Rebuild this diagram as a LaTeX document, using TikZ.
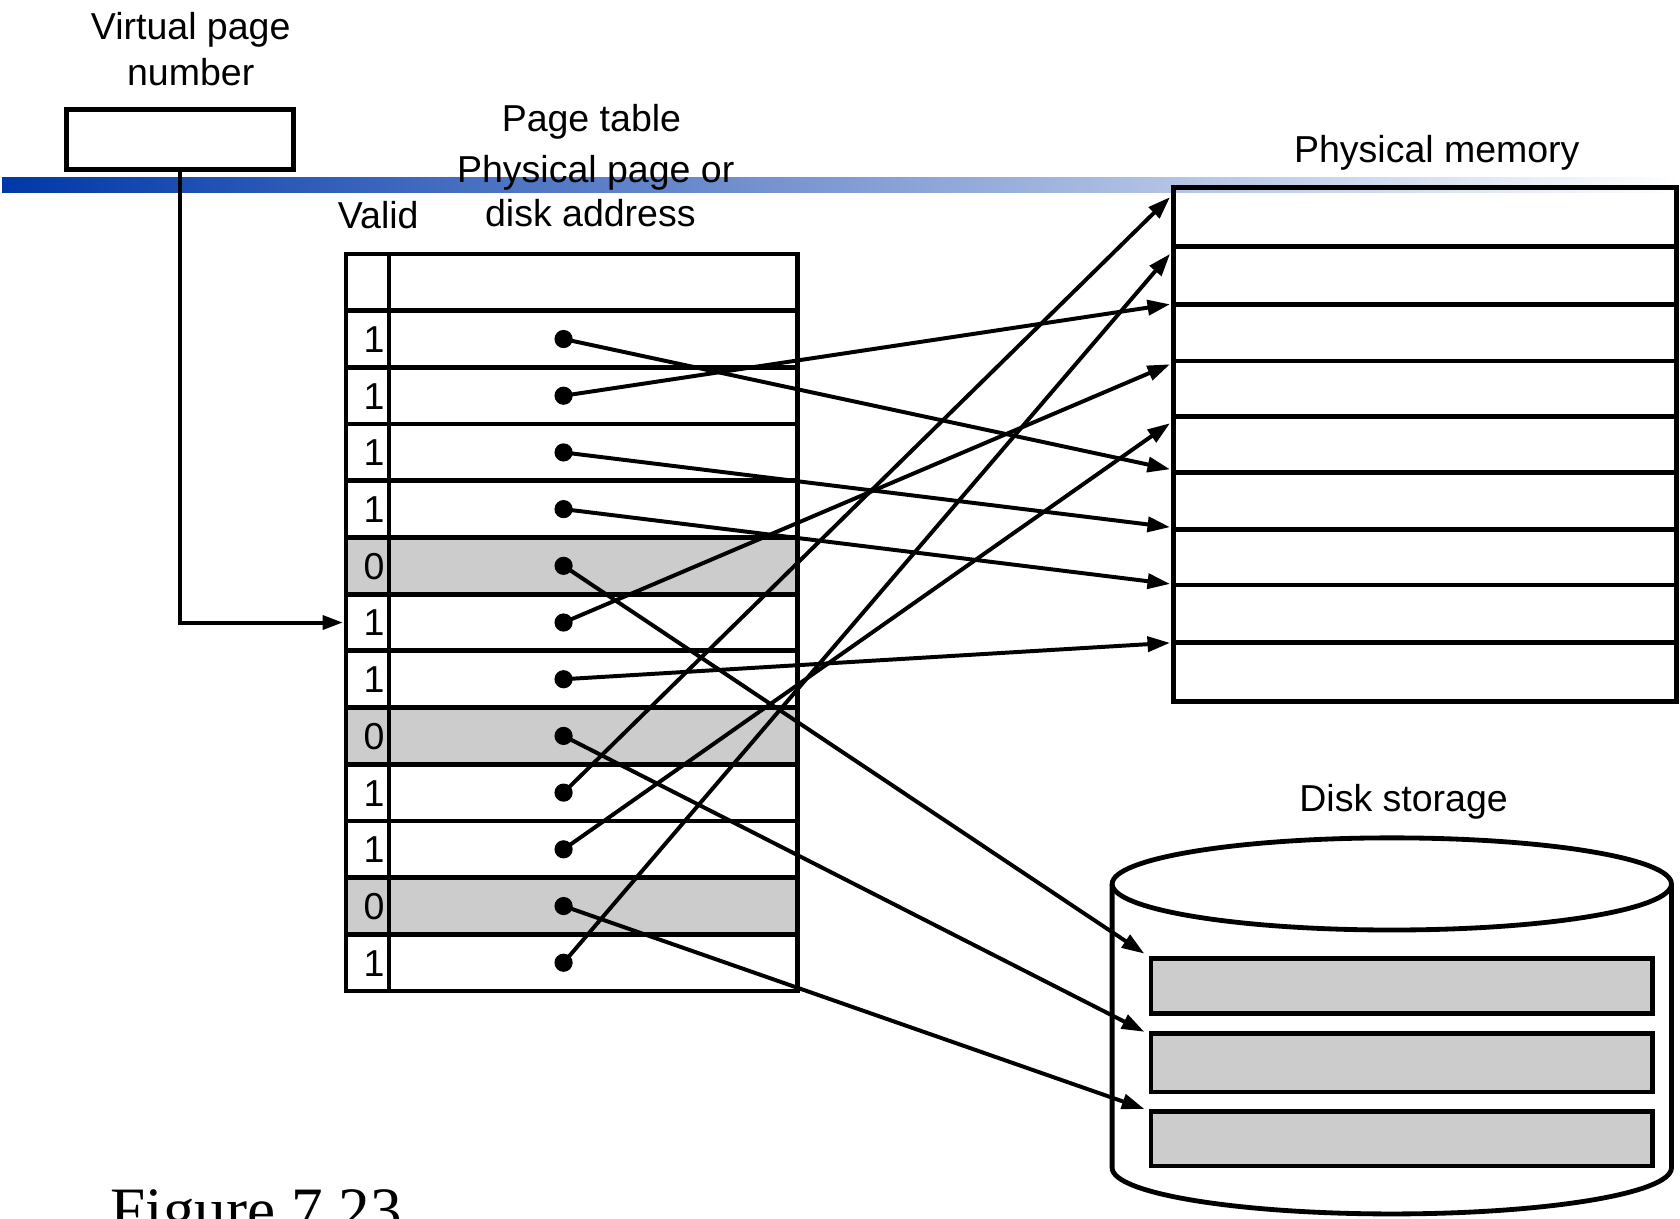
\documentclass[tikz,border=0pt]{standalone}
\usepackage{fontspec}
\setmainfont{Liberation Sans}
\newfontfamily\timesfont{Liberation Serif}
\usetikzlibrary{arrows.meta}
\definecolor{cellgray}{HTML}{CCCCCC}
\definecolor{barblue}{RGB}{0,56,168}
\begin{document}
\begin{tikzpicture}[x=1pt,y=-1pt,
  frame/.style={draw=black,line width=4.5pt},
  rule/.style={line width=4.5pt},
  link/.style={line width=3.7pt,-{Triangle[length=21pt,width=14pt]}},
  lbl/.style={font=\fontsize{35}{42}\selectfont,inner sep=0pt,anchor=base},
  pin/.style={circle,fill=black,inner sep=0pt,minimum size=17pt},
  blk/.style={frame,fill=cellgray,minimum width=468pt,minimum height=52pt,inner sep=0pt},
]
\useasboundingbox (0,0) rectangle (1568,1137);
\clip (0,0) rectangle (1568,1137);

% title bar
\shade[left color=barblue,right color=white] (2,166) rectangle (1568,180);

% virtual page number register
\node[lbl] at (178,37) {Virtual page};
\node[lbl] at (178,80) {number};
\node[frame,minimum width=212pt,minimum height=56pt,inner sep=0pt] (vpn) at (168,130) {};

% page table headings
\node[lbl] at (552,123) {Page table};
\node[lbl] at (556,170) {Physical page or};
\node[lbl] at (551,211) {disk address};
\node[lbl] at (353,213) {Valid};

% page table
\def\rh{52.92}
\foreach \i in {5,8,11}
  \fill[cellgray] (323,{237+\i*\rh}) rectangle (744,{237+(\i+1)*\rh});
\foreach \i in {1,...,12}
  \draw[rule] (323,{237+\i*\rh}) -- (744,{237+\i*\rh});
\draw[frame] (323,237) rectangle (744,925);
\draw[rule] (363,237) -- (363,925);
\foreach \v [count=\i] in {1,1,1,1,0,1,1,0,1,1,0,1} {
  \node[lbl] at (349,{237+\i*\rh+26.5+12.5}) {\v};
  \node[pin] (p\i) at (526,{237+\i*\rh+26.5}) {};
}
\coordinate (row6) at (320,{237+6*\rh+26.5});

% physical memory
\node[lbl] at (1341,152) {Physical memory};
\draw[frame] (1095,175) rectangle (1565,655);
\foreach \y in {230,284,337,389,441,494,546,600}
  \draw[rule] (1095,\y) -- (1565,\y);
\coordinate (m0) at (1092,184);
\coordinate (m1) at (1092,237);
\coordinate (m2) at (1092,284);
\coordinate (m3) at (1092,340);
\coordinate (m4) at (1092,395);
\coordinate (m5) at (1092,438);
\coordinate (m6) at (1092,492);
\coordinate (m7) at (1092,545);
\coordinate (m8) at (1092,600);

% disk storage
\node[lbl] at (1310,757) {Disk storage};
\draw[rule] (1299,825) ellipse [x radius=261, y radius=43];
\draw[rule] (1038,825) -- (1038,1090)
  arc[start angle=180,end angle=0,x radius=261,y radius=43] -- (1560,825);
\node[blk,anchor=north west] (d1) at (1072,892) {};
\node[blk,anchor=north west,minimum height=55pt] (d2) at (1072,962) {};
\node[blk,anchor=north west,minimum height=51pt] (d3) at (1072,1035) {};
\coordinate (t1) at (1068,890);
\coordinate (t2) at (1068,963);
\coordinate (t3) at (1068,1035);

% mappings
\draw[line width=3.7pt,-{Triangle[length=19pt,width=13pt]}] (vpn.south) |- (row6);
\draw[link] (p1.center) -- (m5);
\draw[link] (p2.center) -- (m2);
\draw[link] (p3.center) -- (m6);
\draw[link] (p4.center) -- (m7);
\draw[link] (p5.center) -- (t1);
\draw[link] (p6.center) -- (m3);
\draw[link] (p7.center) -- (m8);
\draw[link] (p8.center) -- (t2);
\draw[link] (p9.center) -- (m0);
\draw[link] (p10.center) -- (m4);
\draw[link] (p11.center) -- (t3);
\draw[link] (p12.center) -- (m1);

% caption
\node[font=\timesfont\fontsize{59}{70}\selectfont,anchor=base west,inner sep=0pt] at (103,1149) {Figure 7.23};
\end{tikzpicture}
\end{document}
